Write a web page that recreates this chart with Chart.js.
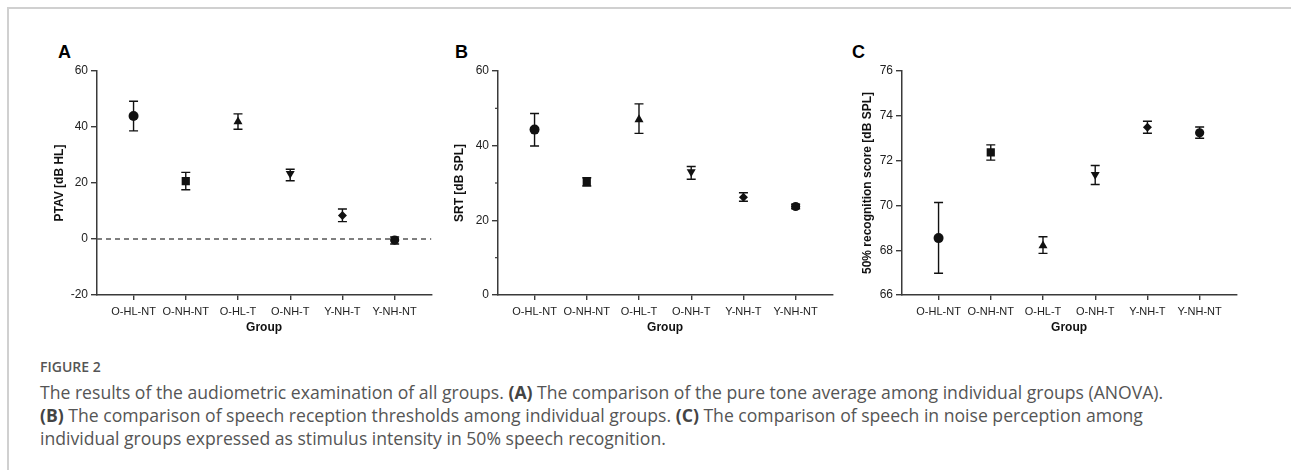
<!DOCTYPE html>
<html>
<head>
<meta charset="utf-8">
<script src="https://cdn.jsdelivr.net/npm/chart.js@4.4.1/dist/chart.umd.min.js"></script>
<style>
  body { margin: 0; width: 1291px; height: 470px; background: #fff; overflow: hidden; position: relative; }
  .frame { position: absolute; left: 7px; top: 7px; right: 0; bottom: 0; border-top: 2px solid #d0d0d0; border-left: 2px solid #d0d0d0; }
  .panel { position: absolute; top: 50px; width: 400px; height: 288px; }
  .tag { position: absolute; top: 42px; font: bold 18px "Liberation Sans", Arial, sans-serif; color: #000; }
  .fig { position: absolute; left: 40px; top: 357px; font: 600 14px "Open Sans", sans-serif; color: #555; }
  .cap { position: absolute; left: 40px; top: 381px; font: 17.6px/23px "Open Sans", sans-serif; color: #555; white-space: nowrap; }
  .cap b { color: #444; }
</style>
</head>
<body>
<div class="frame"></div>
<div class="tag" style="left:58px">A</div>
<div class="tag" style="left:455px">B</div>
<div class="tag" style="left:852px">C</div>
<div class="panel" style="left:37px"><canvas id="chartA" width="400" height="288"></canvas></div>
<div class="panel" style="left:438px"><canvas id="chartB" width="400" height="288"></canvas></div>
<div class="panel" style="left:842px"><canvas id="chartC" width="400" height="288"></canvas></div>
<div class="fig">FIGURE 2</div>
<div class="cap">The results of the audiometric examination of all groups. <b>(A)</b> The comparison of the pure tone average among individual groups (ANOVA).<br><b>(B)</b> The comparison of speech reception thresholds among individual groups. <b>(C)</b> The comparison of speech in noise perception among<br>individual groups expressed as stimulus intensity in 50% speech recognition.</div>

<script>
// groups on the x axis
const groups = ["O-HL-NT", "O-NH-NT", "O-HL-T", "O-NH-T", "Y-NH-T", "Y-NH-NT"];

// A: pure tone average [dB HL]
const ptavMean = [43.9, 20.7, 41.9, 23.4, 8.4, -0.4];
const ptavLow  = [38.6, 17.6, 39.2, 20.8, 6.2, -1.8];
const ptavHigh = [49.2, 23.8, 44.7, 24.9, 10.7, 0.7];

// B: speech reception threshold [dB SPL]
const srtMean = [44.3, 30.3, 47.0, 33.0, 26.2, 23.7];
const srtLow  = [39.9, 29.2, 43.3, 31.0, 25.1, 23.1];
const srtHigh = [48.6, 31.4, 51.2, 34.4, 27.4, 24.3];

// C: 50% recognition score [dB SPL]
const srsMean = [68.54, 72.37, 68.20, 71.38, 73.49, 73.24];
const srsLow  = [66.97, 72.02, 67.86, 70.93, 73.22, 73.00];
const srsHigh = [70.13, 72.70, 68.60, 71.78, 73.76, 73.50];

// marker look per group
const markerStyles = ["circle", "rect", "triangle", "triangle", "rectRot", "circle"];
const markerRotation = [0, 0, 0, 180, 0, 0];
const markerRadius = [5, 5.8, 5.2, 5.2, 4.5, 4.6];

const ink = "#111";
const axisColor = "#3a3a3a";

// error bars, zero line and minor ticks drawn from the chart's own scales
const errorBars = {
  id: "errorBars",
  beforeDatasetsDraw(chart, args, opts) {
    const ds = chart.data.datasets[0];
    const x = chart.scales.x, y = chart.scales.y;
    const ctx = chart.ctx;
    const area = chart.chartArea;
    ctx.save();
    if (opts.zeroLine) {
      const zy = y.getPixelForValue(0);
      ctx.strokeStyle = "#555";
      ctx.lineWidth = 1.3;
      ctx.setLineDash([5, 4]);
      ctx.beginPath();
      ctx.moveTo(area.left, zy);
      ctx.lineTo(area.right, zy);
      ctx.stroke();
      ctx.setLineDash([]);
    }
    (opts.minor || []).forEach(v => {
      const my = y.getPixelForValue(v);
      ctx.strokeStyle = axisColor;
      ctx.lineWidth = 1.2;
      ctx.beginPath();
      ctx.moveTo(area.left - 3, my);
      ctx.lineTo(area.left, my);
      ctx.stroke();
    });
    ctx.strokeStyle = ink;
    ctx.lineWidth = 1.4;
    ds.data.forEach((p, i) => {
      const px = x.getPixelForValue(p.x);
      const top = y.getPixelForValue(ds.high[i]);
      const bot = y.getPixelForValue(ds.low[i]);
      ctx.beginPath();
      ctx.moveTo(px, top); ctx.lineTo(px, bot);
      ctx.moveTo(px - 4.5, top); ctx.lineTo(px + 4.5, top);
      ctx.moveTo(px - 4.5, bot); ctx.lineTo(px + 4.5, bot);
      ctx.stroke();
    });
    ctx.restore();
  }
};

function makePanel(id, mean, low, high, yTitle, yMin, yMax, yStep, padLeft, yWidth, extra) {
  const ctx = document.getElementById(id).getContext("2d");
  return new Chart(ctx, {
    type: "scatter",
    data: {
      datasets: [{
        data: mean.map((v, i) => ({ x: i, y: v })),
        low: low,
        high: high,
        pointStyle: markerStyles,
        rotation: markerRotation,
        pointRadius: markerRadius,
        backgroundColor: ink,
        borderColor: ink,
        borderWidth: 0,
        showLine: false
      }]
    },
    options: {
      responsive: false,
      animation: false,
      layout: { padding: { left: padLeft, right: 4, top: 21, bottom: 0 } },
      plugins: { legend: { display: false }, tooltip: { enabled: false }, errorBars: extra },
      scales: {
        x: {
          type: "linear",
          min: -0.7,
          max: 5.7,
          afterBuildTicks: s => { s.ticks = groups.map((g, i) => ({ value: i })); },
          afterFit: s => { s.height = 43; },
          ticks: {
            callback: v => groups[v],
            color: "#222",
            font: { family: "Liberation Sans", size: 11 },
            padding: 5,
            maxRotation: 0,
            autoSkip: false
          },
          grid: { drawOnChartArea: false, drawTicks: true, tickLength: 5, color: axisColor, lineWidth: 1.4 },
          border: { color: axisColor, width: 1.5 },
          title: { display: true, text: "Group", color: "#111", font: { family: "Liberation Sans", size: 12, weight: "bold" }, padding: { top: 2, bottom: 3 } }
        },
        y: {
          min: yMin,
          max: yMax,
          afterFit: s => { s.width = yWidth; },
          ticks: {
            stepSize: yStep,
            color: "#222",
            font: { family: "Liberation Sans", size: 12 },
            padding: 3
          },
          grid: { drawOnChartArea: false, drawTicks: true, tickLength: 6, color: axisColor, lineWidth: 1.4 },
          border: { color: axisColor, width: 1.5 },
          title: { display: true, text: yTitle, color: "#111", font: { family: "Liberation Sans", size: 12, weight: "bold" }, padding: { top: 3, bottom: 4 } }
        }
      }
    },
    plugins: [errorBars]
  });
}

makePanel("chartA", ptavMean, ptavLow, ptavHigh, "PTAV [dB HL]", -20, 60, 20, 12, 48, { zeroLine: true });
makePanel("chartB", srtMean, srtLow, srtHigh, "SRT [dB SPL]", 0, 60, 20, 11, 49, { minor: [10, 30, 50] });
makePanel("chartC", srsMean, srsLow, srsHigh, "50% recognition score [dB SPL]", 66, 76, 2, 15, 45, {});
</script>
</body>
</html>
